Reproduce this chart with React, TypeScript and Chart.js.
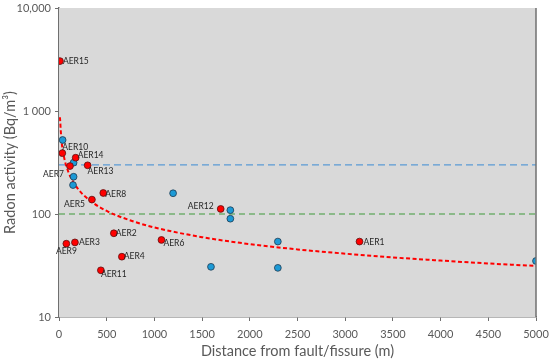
import { useEffect, useRef } from "react";
import { Chart, registerables } from "chart.js";

Chart.register(...registerables);

// ---- data ----
const redNames = ["AER15", "AER10", "AER14", "AER7", "AER13", "AER8", "AER5", "AER2", "AER3", "AER9", "AER6", "AER4", "AER11", "AER12", "AER1"];
const redDistance = [10, 35, 175, 115, 300, 464, 345, 575, 167, 77, 1074, 659, 439, 1695, 3150];
const redRadon = [3050, 390, 352, 292, 297, 160, 138, 65, 53, 51.5, 56, 38.5, 28.4, 112, 54];

const blueDistance = [38, 153, 153, 147, 1196, 1796, 1796, 1593, 2294, 2294, 5000];
const blueRadon = [523, 315, 230, 191, 159, 109, 90, 30.7, 54, 30, 35];

const trendDistance = [10, 25, 50, 100, 200, 350, 500, 750, 1000, 1500, 2000, 2500, 3000, 3500, 4000, 4500, 5000];
const trendRadon = [870, 533, 368, 254, 175, 130, 107, 86.5, 74, 59.6, 51, 45.3, 41.2, 37.9, 35.3, 33.1, 31.3];

const blueThreshold = 300;
const greenThreshold = 100;

const xTicks = [0, 500, 1000, 1500, 2000, 2500, 3000, 3500, 4000, 4500, 5000];
const yTicks = [10, 100, 1000, 10000];
const yTickLabels = ["10", "100", "1 000", "10,000"];

// ---- label placement (styling) ----
const labelPlacement: Record<string, [number, number, CanvasTextAlign]> = {
  AER15: [3, 0, "left"],
  AER10: [0, -6, "left"],
  AER14: [2, -2, "left"],
  AER7: [-6, 8, "right"],
  AER13: [0, 6, "left"],
  AER8: [2, 1, "left"],
  AER5: [-7, 5, "right"],
  AER2: [2, 0, "left"],
  AER3: [4, 0, "left"],
  AER9: [0, 8, "center"],
  AER6: [2, 3, "left"],
  AER4: [2, 0, "left"],
  AER11: [0, 4, "left"],
  AER12: [-7, -3, "right"],
  AER1: [4, 1, "left"],
};

const FONT = "Lato, 'Open Sans', sans-serif";
const GREY = "#595959";

const bgPlugin = {
  id: "bgPlugin",
  beforeDatasetsDraw(chart: any) {
    const { ctx, chartArea } = chart;
    ctx.save();
    ctx.fillStyle = "#D9D9D9";
    ctx.fillRect(chartArea.left, chartArea.top, chartArea.right - chartArea.left, chartArea.bottom - chartArea.top);
    ctx.restore();
  },
  afterDraw(chart: any) {
    const { ctx, chartArea } = chart;
    ctx.save();
    ctx.strokeStyle = "#6f6f6f";
    ctx.lineWidth = 1.5;
    ctx.beginPath();
    ctx.moveTo(chartArea.right, chartArea.top);
    ctx.lineTo(chartArea.right, chartArea.bottom);
    ctx.stroke();
    ctx.restore();
  },
};

const labelPlugin = {
  id: "labelPlugin",
  afterDatasetsDraw(chart: any) {
    const { ctx } = chart;
    const meta = chart.getDatasetMeta(1);
    ctx.save();
    ctx.font = `8.5px ${FONT}`;
    ctx.fillStyle = "#262626";
    ctx.textBaseline = "middle";
    meta.data.forEach((el: any, i: number) => {
      const name = redNames[i];
      const [dx, dy, align] = labelPlacement[name] || [3, 0, "left"];
      ctx.textAlign = align;
      ctx.fillText(name, el.x + dx, el.y + dy);
    });
    ctx.restore();
  },
};

export default function App() {
  const ref = useRef<HTMLCanvasElement | null>(null);

  useEffect(() => {
    if (!ref.current) return;
    const chart = new Chart(ref.current, {
      type: "scatter",
      data: {
        datasets: [
          {
            label: "blue",
            data: blueDistance.map((x, i) => ({ x, y: blueRadon[i] })),
            backgroundColor: "#1C9AD6",
            borderColor: "#1f3a50",
            borderWidth: 0.8,
            pointRadius: 3.4,
            order: 1,
          },
          {
            label: "red",
            data: redDistance.map((x, i) => ({ x, y: redRadon[i] })),
            backgroundColor: "#FF0000",
            borderColor: "#5a1010",
            borderWidth: 0.8,
            pointRadius: 3.4,
            order: 0,
          },
          {
            label: "trend",
            data: trendDistance.map((x, i) => ({ x, y: trendRadon[i] })),
            showLine: true,
            borderColor: "#FF0000",
            borderWidth: 2,
            borderDash: [4, 2.5],
            pointRadius: 0,
            cubicInterpolationMode: "monotone",
            order: 2,
          },
          {
            label: "t300",
            data: [
              { x: 0, y: blueThreshold },
              { x: 5000, y: blueThreshold },
            ],
            showLine: true,
            borderColor: "#5B9BD5",
            borderWidth: 1.2,
            borderDash: [7, 4],
            pointRadius: 0,
            order: 3,
          },
          {
            label: "t100",
            data: [
              { x: 0, y: greenThreshold },
              { x: 5000, y: greenThreshold },
            ],
            showLine: true,
            borderColor: "#3E9A3A",
            borderWidth: 1.2,
            borderDash: [6, 4],
            pointRadius: 0,
            order: 3,
          },
        ],
      },
      options: {
        responsive: false,
        animation: false,
        layout: { padding: { top: 8, right: 14, left: 0, bottom: 0 } },
        plugins: {
          legend: { display: false },
          tooltip: { enabled: false },
        },
        scales: {
          x: {
            type: "linear",
            min: 0,
            max: 5000,
            afterBuildTicks: (scale: any) => {
              scale.ticks = xTicks.map((v) => ({ value: v }));
            },
            afterFit: (scale: any) => {
              scale.height = 43;
              scale.paddingLeft = 0;
              scale.paddingRight = 0;
            },
            ticks: {
              color: GREY,
              font: { family: FONT, size: 11 },
              padding: 7,
              maxRotation: 0,
              callback: (v: any) => String(v),
            },
            grid: { display: true, drawOnChartArea: false, drawTicks: true, tickLength: 4, color: "#6f6f6f" },
            border: { display: true, color: "#6f6f6f", width: 1.5 },
            title: {
              display: true,
              text: "Distance from fault/fissure (m)",
              color: GREY,
              font: { family: FONT, size: 14.5 },
              padding: { top: 0, bottom: 0 },
            },
          },
          y: {
            type: "logarithmic",
            min: 10,
            max: 10000,
            afterBuildTicks: (scale: any) => {
              scale.ticks = yTicks.map((v) => ({ value: v }));
            },
            afterFit: (scale: any) => {
              scale.width = 59;
              scale.paddingTop = 0;
              scale.paddingBottom = 0;
            },
            ticks: {
              color: GREY,
              font: { family: FONT, size: 11 },
              padding: 4,
              callback: (v: any) => {
                const i = yTicks.indexOf(Number(v));
                return i >= 0 ? yTickLabels[i] : "";
              },
            },
            grid: { display: true, drawOnChartArea: false, drawTicks: true, tickLength: 4, color: "#6f6f6f" },
            border: { display: true, color: "#6f6f6f", width: 1.5 },
            title: {
              display: true,
              text: "Radon activity (Bq/m³)",
              color: GREY,
              font: { family: FONT, size: 14.5 },
              padding: { top: 2, bottom: 0 },
            },
          },
        },
      },
      plugins: [bgPlugin, labelPlugin],
    } as any);
    return () => chart.destroy();
  }, []);

  return (
    <div style={{ position: "fixed", left: 0, top: 0, width: 550, height: 360, background: "#fff" }}>
      <canvas ref={ref} width={550} height={360} style={{ width: 550, height: 360, display: "block" }} />
    </div>
  );
}
